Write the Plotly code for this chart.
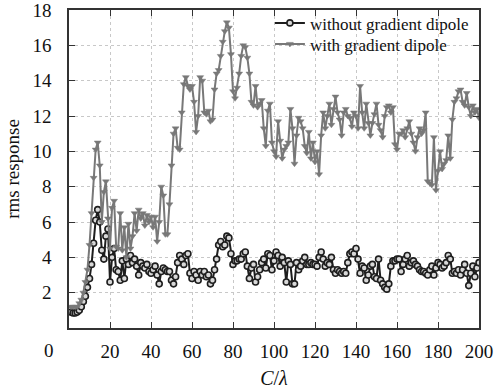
import plotly.graph_objects as go

x_vals = list(range(1, 201))

without_dipole = [
    0.9, 0.85, 0.85, 0.9, 1.0, 1.2, 1.5, 1.8, 2.3, 2.8,
    3.6, 4.8, 6.1, 6.7, 6.0, 4.4, 3.9, 5.2, 5.6, 2.6,
    4.0, 4.5, 3.3, 3.2, 2.7, 3.8, 2.8, 3.9, 3.6, 4.1,
    3.7, 3.9, 3.5, 3.0, 3.7, 3.5, 3.4, 3.6, 3.2, 3.1,
    3.3, 3.5, 3.0, 2.5, 3.2, 3.4, 3.3, 3.2, 3.2, 2.7,
    2.5, 2.9, 3.7, 4.1, 3.9, 3.6, 4.1, 4.2, 3.1, 2.8,
    3.2, 3.0, 2.7, 3.2, 3.0, 3.2, 2.9, 3.0, 2.5, 2.7,
    3.3, 3.9, 4.7, 4.9, 4.6, 4.7, 5.2, 5.1, 4.2, 3.6,
    3.8, 3.8, 3.9, 3.9, 4.2, 4.3, 3.5, 2.8, 3.4, 3.6,
    2.6, 2.9, 3.3, 3.7, 3.9, 3.4, 4.2, 4.1, 3.3, 3.8,
    4.3, 4.1, 3.5, 4.0, 3.7, 2.6, 3.8, 3.6, 2.5, 2.5,
    3.7, 3.3, 3.5, 3.8, 4.0, 3.6, 3.6, 3.7, 3.6, 3.6,
    3.5, 4.0, 4.3, 3.9, 3.5, 3.7, 3.6, 4.0, 3.3, 3.1,
    3.3, 3.2, 3.1, 3.2, 3.1, 3.7, 4.2, 4.3, 4.2, 4.5,
    3.9, 3.1, 3.5, 3.4, 2.7, 3.0, 3.5, 3.6, 2.9, 2.8,
    3.9, 2.7, 2.5, 2.3, 2.2, 2.5, 3.5, 3.8, 3.8, 3.9,
    3.9, 3.2, 3.6, 3.9, 4.1, 3.5, 3.7, 3.8, 3.6, 3.5,
    3.3, 3.2, 3.2, 3.1, 3.0, 3.3, 3.5, 3.0, 3.4, 3.7,
    3.6, 3.4, 3.5, 3.7, 4.1, 3.9, 3.1, 3.2, 3.1, 3.3,
    3.0, 3.3, 3.6, 3.1, 2.4, 3.1, 3.5, 2.9, 3.4, 3.7,
]

with_dipole = [
    1.2, 1.2, 1.2, 1.2, 1.4, 1.6, 2.0, 2.6, 3.3, 4.7,
    6.5, 8.5, 10.1, 10.5, 9.2, 6.0, 7.7, 8.3, 6.2, 4.5,
    6.8, 7.2, 4.6, 4.5, 6.5, 4.4, 5.7, 4.0, 5.9, 4.5,
    5.2, 6.5, 5.5, 6.7, 6.2, 6.5, 5.8, 6.4, 6.0, 6.3,
    5.7, 6.3, 4.9, 6.0, 8.0, 7.5, 5.3, 5.3, 7.0, 9.2,
    11.0, 11.3, 10.2, 10.1, 12.2, 13.8, 14.2, 13.7, 13.5, 13.7,
    12.8, 11.1, 12.0, 14.2, 14.0, 12.2, 12.1, 12.3, 11.7, 11.8,
    13.5, 14.4, 14.6, 15.4, 16.2, 16.8, 17.3, 17.0, 15.5, 13.4,
    13.0, 13.6, 14.4, 15.4, 16.0, 15.9, 15.3, 14.4, 12.8, 12.6,
    13.7, 12.5, 12.7, 12.9, 11.3, 10.3, 12.3, 12.7, 10.5, 10.0,
    9.7, 11.7, 10.6, 9.6, 10.1, 10.3, 10.5, 12.4, 11.3, 9.3,
    10.9, 11.9, 11.7, 11.3, 10.3, 9.9, 11.1, 9.6, 10.5, 9.4,
    10.0, 8.7, 10.9, 12.2, 11.3, 12.0, 12.7, 11.5, 12.4, 13.1,
    12.2, 11.8, 10.9, 12.2, 12.4, 12.0, 11.9, 11.4, 12.2, 12.0,
    11.3, 13.7, 12.2, 11.3, 12.7, 11.6, 10.9, 11.6, 12.1, 12.7,
    11.5, 11.2, 10.8, 12.0, 12.5, 12.6, 12.2, 12.5, 10.4, 10.1,
    11.0, 11.0, 11.2, 10.8, 11.3, 11.7, 11.0, 10.5, 10.0, 10.8,
    11.3, 11.0, 11.2, 12.2, 8.3, 8.2, 8.1, 10.8, 7.8, 8.9,
    10.0, 9.0, 9.3, 9.5, 10.9, 9.6, 11.8, 12.8, 13.0, 13.4,
    13.5, 12.8, 12.6, 13.3, 12.5, 12.0, 12.6, 12.2, 12.4, 11.9,
]

x_ticks = [20, 40, 60, 80, 100, 120, 140, 160, 180, 200]
y_ticks = [2, 4, 6, 8, 10, 12, 14, 16, 18]

serif = "Liberation Serif"
txt = "#111111"

fig = go.Figure()
fig.add_trace(go.Scatter(
    x=x_vals, y=without_dipole, mode="lines+markers",
    name="without gradient dipole", legend="legend",
    line=dict(color="#1e1e1e", width=2),
    marker=dict(symbol="circle", size=6, color="#d8d8d8",
                line=dict(color="#1e1e1e", width=1.6)),
))
fig.add_trace(go.Scatter(
    x=x_vals, y=with_dipole, mode="lines+markers",
    name="with gradient dipole", legend="legend2",
    line=dict(color="#787878", width=2),
    marker=dict(symbol="triangle-down", size=6, color="#787878",
                line=dict(color="#787878", width=0.5)),
))

axis_common = dict(
    showline=True, linecolor="#333333", linewidth=1.5, mirror="ticks",
    ticks="inside", ticklen=6, tickcolor="#333333", tickwidth=1,
    showgrid=True, gridcolor="#c8c8c8", griddash="dot", gridwidth=1,
    zeroline=False, automargin=False, ticklabeloverflow="allow",
    tickfont=dict(family=serif, size=19, color=txt),
)

fig.update_xaxes(range=[0, 200], tickvals=x_ticks, ticklabelstandoff=5,
                 title=dict(text="<i>C</i>/<i>λ</i>", font=dict(family=serif, size=20, color=txt), standoff=10),
                 **axis_common)
fig.update_yaxes(range=[0, 18], tickvals=y_ticks, ticklabelstandoff=12,
                 title=dict(text="rms response", font=dict(family=serif, size=19, color=txt), standoff=8),
                 **axis_common)

fig.add_annotation(text="0", xref="paper", yref="paper", x=-0.049, y=-0.07,
                   showarrow=False, font=dict(family=serif, size=19, color=txt),
                   xanchor="center", yanchor="middle")

leg_common = dict(xanchor="left", yanchor="middle",
                  font=dict(family=serif, size=17, color=txt),
                  bgcolor="rgba(0,0,0,0)", itemwidth=30)

fig.update_layout(
    width=494, height=391,
    margin=dict(l=69, r=15, t=10, b=63, autoexpand=False),
    plot_bgcolor="white", paper_bgcolor="white",
    legend=dict(x=0.49, y=0.958, **leg_common),
    legend2=dict(x=0.49, y=0.892, **leg_common),
    showlegend=True,
)

fig.write_html("out.html")
